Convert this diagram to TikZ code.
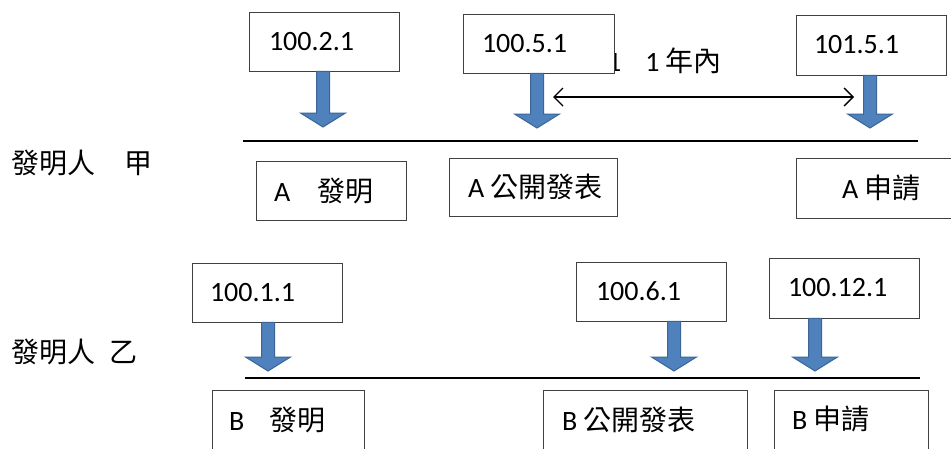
\documentclass[tikz,border=0pt]{standalone}
\usepackage{fontspec}
\setmainfont{Carlito}
\newfontfamily\cjk{Noto Sans CJK TC}
\usetikzlibrary{calc,arrows.meta}
\definecolor{arrowblue}{HTML}{4F81BD}
\definecolor{arrowdark}{HTML}{3A6596}
\definecolor{boxline}{HTML}{404040}
\newcommand{\boxtext}[3]{\lower2.5pt\hbox to #1pt{\hspace*{#2pt}#3\hfill}}
\tikzset{
  tbox/.style={draw=boxline, line width=0.9pt, fill=white, inner sep=0pt, minimum height=59pt},
  lbl/.style={inner sep=0pt, anchor=west},
  tline/.style={line width=1.8pt, black},
  blockarrow/.style={fill=arrowblue, draw=arrowdark, line width=1pt,
    to path={let \p1=(\tikztostart), \p2=(\tikztotarget) in
      (\x1-6.5pt,\y1) -- (\x1-6.5pt,\y2+14pt) -- (\x1-22.5pt,\y2+14pt) -- (\x1,\y2)
      -- (\x1+22.5pt,\y2+14pt) -- (\x1+6.5pt,\y2+14pt) -- (\x1+6.5pt,\y1) -- cycle}},
  span/.style={line width=1.4pt, {Straight Barb[length=9pt,width=18pt]}-{Straight Barb[length=9pt,width=18pt]}}
}
\begin{document}
\begin{tikzpicture}[x=1pt,y=-1pt, font=\fontsize{28}{32}\selectfont]
\useasboundingbox (0,0) rectangle (951,448);
\fill[white] (0,0) rectangle (951,448);

% left labels
\node[lbl] (pa) at (11,163) {{\cjk 發明人}\hspace{29pt}{\cjk 甲}};
\node[lbl] (pb) at (11,352) {{\cjk 發明人}\hspace{14pt}{\cjk 乙}};

% span label (partly hidden behind the box)
\node[lbl] (span) at (607,61) {1\hspace{24pt}1\hspace{6pt}{\cjk 年內}};

% top row dates
\node[tbox] (d1) at (324,41.5) {\boxtext{150}{20}{100.2.1}};
\node[tbox] (d2) at (538.5,43.5) {\boxtext{151}{19}{100.5.1}};
\node[tbox, minimum height=60pt] (d3) at (871,45) {\boxtext{150}{18}{101.5.1}};

% top row events
\node[tbox] (e1) at (331,190.5) {\boxtext{150}{18}{A\hspace{27pt}{\cjk 發明}}};
\node[tbox, minimum height=58pt] (e2) at (533,187) {\boxtext{168}{19}{A\hspace{6pt}{\cjk 公開發表}}};
\node[tbox, minimum height=60pt] (e3) at (873.5,188) {\boxtext{155}{46}{A\hspace{6pt}{\cjk 申請}}};

% bottom row dates
\node[tbox] (f1) at (267,292.5) {\boxtext{150}{18}{100.1.1}};
\node[tbox] (f2) at (651,291.5) {\boxtext{150}{20}{100.6.1}};
\node[tbox, minimum height=60pt] (f3) at (844,288) {\boxtext{150}{19}{100.12.1}};

% bottom row events
\node[tbox] (g1) at (288,419.5) {\boxtext{152}{17}{B\hspace{25pt}{\cjk 發明}}};
\node[tbox] (g2) at (645,419.5) {\boxtext{204}{19}{B\hspace{6pt}{\cjk 公開發表}}};
\node[tbox] (g3) at (851,419.5) {\boxtext{154}{18}{B\hspace{6pt}{\cjk 申請}}};

% arrow tips
\coordinate (t1) at (323,127);
\coordinate (t2) at (537,128);
\coordinate (t3) at (870,128);
\coordinate (u1) at (268,371);
\coordinate (u2) at (674,371);
\coordinate (u3) at (815,371);

\draw[blockarrow] (t1 |- d1.south) to (t1);
\draw[blockarrow] (t2 |- d2.south) to (t2);
\draw[blockarrow] (t3 |- d3.south) to (t3);
\draw[blockarrow] (u1 |- f1.south) to (u1);
\draw[blockarrow] (u2 |- f2.south) to (u2);
\draw[blockarrow] (u3 |- f3.south) to (u3);

% timelines
\coordinate (la) at (243,141);
\coordinate (lb) at (918,141);
\coordinate (ma) at (245,378);
\coordinate (mb) at (920,378);
\draw[tline] (la) -- (lb);
\draw[tline] (ma) -- (mb);

% one-year span
\coordinate (sa) at (553,97);
\coordinate (sb) at (854,97);
\draw[span] (sa) -- (sb);
\end{tikzpicture}
\end{document}
